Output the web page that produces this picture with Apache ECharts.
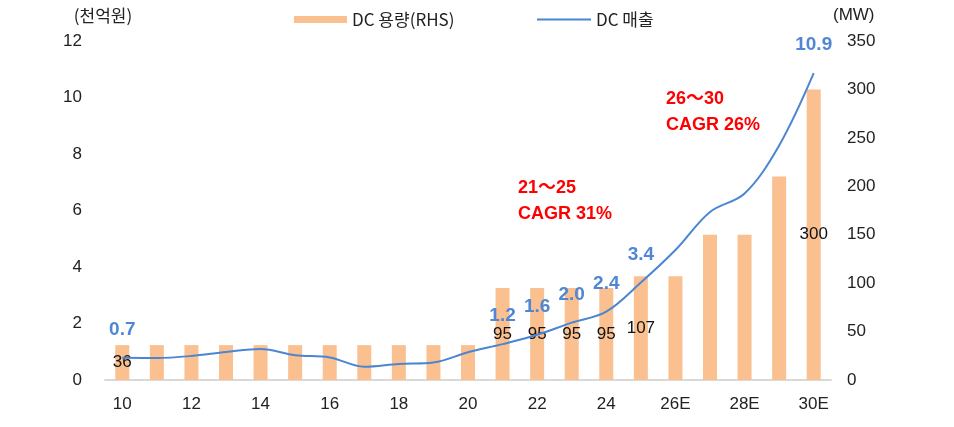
<!DOCTYPE html>
<html>
<head>
<meta charset="utf-8">
<script src="https://cdn.jsdelivr.net/npm/echarts@6/dist/echarts.min.js"></script>
<style>
  html, body { margin: 0; padding: 0; background: #fff; }
  #chart { width: 954px; height: 427px; }
</style>
</head>
<body>
<div id="chart"></div>
<script>
// x categories (years)
const years = ['10', '11', '12', '13', '14', '15', '16', '17', '18', '19', '20',
  '21', '22', '23', '24', '25', '26E', '27E', '28E', '29E', '30E'];

// DC capacity, MW (right axis)
const capacity = [36, 36, 36, 36, 36, 36, 36, 36, 36, 36, 36,
  95, 95, 95, 95, 107, 107, 150, 150, 210, 300];
const capacityLabels = ['36', '', '', '', '', '', '', '', '', '', '',
  '95', '95', '95', '95', '107', '', '', '', '', '300'];

// DC sales, 천억원 (left axis)
const sales = [0.79, 0.78, 0.85, 0.99, 1.1, 0.88, 0.8, 0.47, 0.57, 0.62, 0.98,
  1.27, 1.6, 2.03, 2.42, 3.45, 4.6, 5.95, 6.6, 8.3, 10.86];
const salesLabels = ['0.7', '', '', '', '', '', '', '', '', '', '',
  '1.2', '1.6', '2.0', '2.4', '3.4', '', '', '', '', '10.9'];

const kFont = '"Noto Sans CJK KR", "Liberation Sans", sans-serif';
const numFont = '"Liberation Sans", "Noto Sans CJK KR", sans-serif';
const txt = '#222';

const chart = echarts.init(document.getElementById('chart'));

chart.setOption({
  animation: false,
  backgroundColor: '#fff',
  grid: { left: 105, right: 123, top: 41, bottom: 47 },
  legend: [
    {
      left: 289,
      top: 6,
      icon: 'rect',
      itemWidth: 53,
      itemHeight: 7,
      itemGap: 6,
      textStyle: { fontFamily: kFont, fontSize: 17, color: txt },
      data: ['DC 용량(RHS)']
    },
    {
      left: 532,
      top: 6,
      icon: 'rect',
      itemWidth: 54,
      itemHeight: 2,
      textStyle: { fontFamily: kFont, fontSize: 17, color: txt },
      data: ['DC 매출']
    }
  ],
  xAxis: {
    type: 'category',
    data: years,
    axisLine: { lineStyle: { color: '#d9d9d9', width: 2 } },
    axisTick: { show: false },
    axisLabel: {
      interval: 1,
      margin: 16,
      fontFamily: numFont,
      fontSize: 17,
      color: txt
    }
  },
  yAxis: [
    {
      type: 'value',
      min: 0,
      max: 12,
      interval: 2,
      name: '(천억원)',
      nameLocation: 'end',
      nameGap: 17,
      nameTextStyle: { fontFamily: kFont, fontSize: 17, color: txt, align: 'center', padding: [0, 0, 0, -4] },
      splitLine: { show: false },
      axisLine: { show: false },
      axisTick: { show: false },
      axisLabel: { margin: 23, fontFamily: numFont, fontSize: 17, color: txt }
    },
    {
      type: 'value',
      min: 0,
      max: 350,
      interval: 50,
      name: '(MW)',
      nameLocation: 'end',
      nameGap: 17,
      nameTextStyle: { fontFamily: numFont, fontSize: 17, color: txt, align: 'left', padding: [0, 0, 0, 2] },
      splitLine: { show: false },
      axisLine: { show: false },
      axisTick: { show: false },
      axisLabel: { margin: 16, fontFamily: numFont, fontSize: 17, color: txt }
    }
  ],
  series: [
    {
      name: 'DC 용량(RHS)',
      type: 'bar',
      yAxisIndex: 1,
      data: capacity,
      barWidth: 14,
      itemStyle: { color: '#fac090' },
      label: {
        show: true,
        position: 'inside',
        fontFamily: numFont,
        fontSize: 17,
        color: '#111',
        formatter: p => capacityLabels[p.dataIndex]
      },
      z: 2
    },
    {
      name: 'DC 매출',
      type: 'line',
      yAxisIndex: 0,
      data: sales,
      smooth: 0.35,
      symbol: 'none',
      lineStyle: { color: '#4a86d4', width: 2 },
      itemStyle: { color: '#4a86d4' },
      z: 3
    },
    {
      // value labels for the sales line
      name: 'salesLabels',
      type: 'scatter',
      yAxisIndex: 0,
      data: sales,
      symbolSize: 1,
      itemStyle: { color: 'rgba(0,0,0,0)', opacity: 1 },
      silent: true,
      label: {
        show: true,
        position: 'top',
        distance: 18,
        opacity: 1,
        fontFamily: numFont,
        fontSize: 19,
        fontWeight: 'bold',
        color: '#4f86d6',
        formatter: p => salesLabels[p.dataIndex]
      },
      z: 4
    }
  ],
  graphic: [
    {
      type: 'text', right: 954 - 612, top: 175,
      style: { text: '21～25\nCAGR 31%', align: 'right', fill: '#ff0000', font: 'bold 18px "Liberation Sans", "Noto Sans CJK KR", sans-serif', lineHeight: 26 }
    },
    {
      type: 'text', right: 954 - 760, top: 86,
      style: { text: '26～30\nCAGR 26%', align: 'right', fill: '#ff0000', font: 'bold 18px "Liberation Sans", "Noto Sans CJK KR", sans-serif', lineHeight: 26 }
    }
  ]
});
</script>
</body>
</html>
